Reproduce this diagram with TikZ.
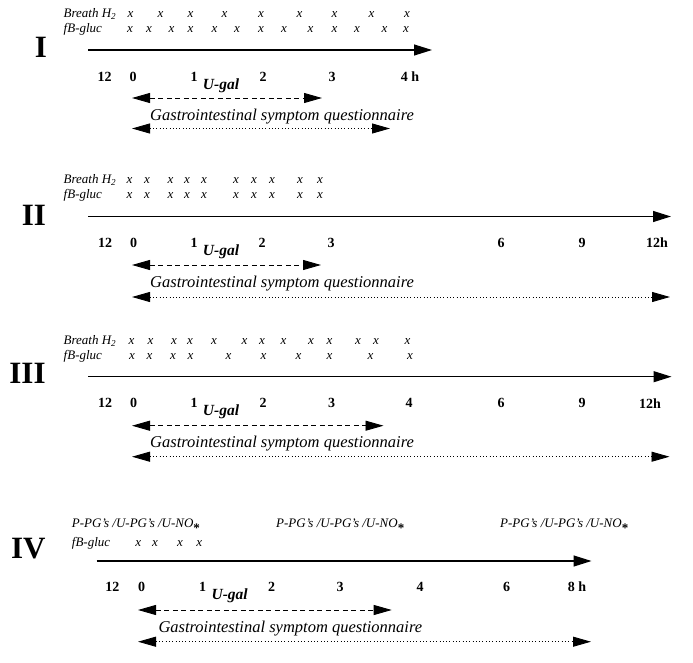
\documentclass[tikz,border=0pt]{standalone}
\usepackage{fontspec}
\setmainfont{Liberation Serif}
\usepackage{tikz}
\usetikzlibrary{arrows.meta}
\usetikzlibrary{positioning}
\tikzset{
    panel numeral/.style={
        inner sep=0pt,
        font=\fontsize{31}{31}\selectfont\bfseries
    },
    row label/.style={
        anchor=base west,
        inner sep=0pt,
        font=\fontsize{13}{13}\selectfont\itshape
    },
    sample mark/.style={
        anchor=base,
        inner sep=0pt,
        font=\fontsize{13}{13}\selectfont\itshape
    },
    hour label/.style={
        inner sep=0pt,
        font=\fontsize{14}{14}\selectfont\bfseries
    },
    ugal label/.style={
        inner sep=0pt,
        font=\fontsize{15.5}{15.5}\selectfont\bfseries\itshape
    },
    gsq label/.style={
        anchor=west,
        inner sep=0pt,
        font=\fontsize{16.5}{16.5}\selectfont\itshape
    },
    time line/.style={
        line width=1.2pt,
        -{Triangle[length=18pt,width=11pt]}
    },
    ugal span/.style={
        line width=0.9pt,
        dash pattern=on 5pt off 3.5pt,
        {Triangle[length=18pt,width=10pt]}-{Triangle[length=18pt,width=10pt]}
    },
    gsq span/.style={
        line width=0.9pt,
        dash pattern=on 0.9pt off 2.4pt,
        {Triangle[length=18pt,width=10pt]}-{Triangle[length=18pt,width=10pt]}
    }
}
\newcommand{\gsqtext}{Gastrointestinal symptom questionnaire}
\newcommand{\pgtext}{P-PG's /U-PG's /U-NO\raisebox{-0.42em}{\upshape\bfseries *}}

\begin{document}
\begin{tikzpicture}[x=1pt,y=-1pt]
\useasboundingbox (0,0) rectangle (693,663);

% I
\begin{scope}[shift={(0,50)}]
    \node[panel numeral] (numI) at (41,-2.5) {I};
    \node[row label] (I-breath) at (63.5,-32.5) {Breath H\textsubscript{2}};
    \node[row label] (I-gluc) at (63.5,-17.5) {fB-gluc};
    \foreach \x [count=\i] in {130.5,160.5,190.5,224.5,261,299.5,334.5,371.5,407}
        \node[sample mark] (I-b\i) at (\x,-32.5) {x};
    \foreach \x [count=\i] in {130,149,171.5,190.5,214.5,237,261,284,310.5,334.5,357,384.5,406}
        \node[sample mark] (I-g\i) at (\x,-17.5) {x};
    \coordinate (I-t0) at (88,0);
    \coordinate (I-t1) at (432,0);
    \draw[time line] (I-t0) -- (I-t1);
    \foreach \x/\t [count=\i] in {104.5/12,133/0,194/1,263/2,332/3,410/{4 h}}
        \node[hour label] (I-h\i) at (\x,27) {\t};
    \node[ugal label, anchor=west, right=5pt of I-h3, yshift=-8.5pt] (I-ugal) {U-gal};
    \coordinate (I-u0) at (132,48);
    \coordinate (I-u1) at (322,48);
    \draw[ugal span] (I-u0) -- (I-u1);
    \node[gsq label] (I-gsq) at (150,67) {\gsqtext};
    \coordinate (I-q0) at (132,78.5);
    \coordinate (I-q1) at (390,78.5);
    \draw[gsq span] (I-q0) -- (I-q1);
\end{scope}

% II
\begin{scope}[shift={(0,216.5)}]
    \node[panel numeral] (numII) at (34,-1.5) {II};
    \node[row label] (II-breath) at (63.5,-32.5) {Breath H\textsubscript{2}};
    \node[row label] (II-gluc) at (63.5,-17.5) {fB-gluc};
    \foreach \x [count=\i] in {129.5,147,170.5,187,204,236,254,272,300,320}{
        \node[sample mark] (II-b\i) at (\x,-32.5) {x};
        \node[sample mark] (II-g\i) at (\x,-17.5) {x};
    }
    \coordinate (II-t0) at (88,0);
    \coordinate (II-t1) at (671,0);
    \draw[time line] (II-t0) -- (II-t1);
    \foreach \x/\t [count=\i] in {105/12,133.5/0,194/1,262/2,331/3,501/6,582/9,657/12h}
        \node[hour label] (II-h\i) at (\x,26.5) {\t};
    \node[ugal label, anchor=west, right=5pt of II-h3, yshift=-8.5pt] (II-ugal) {U-gal};
    \coordinate (II-u0) at (132,48.5);
    \coordinate (II-u1) at (321,48.5);
    \draw[ugal span] (II-u0) -- (II-u1);
    \node[gsq label] (II-gsq) at (150,67) {\gsqtext};
    \coordinate (II-q0) at (132,80.5);
    \coordinate (II-q1) at (670,80.5);
    \draw[gsq span] (II-q0) -- (II-q1);
\end{scope}

% III
\begin{scope}[shift={(0,376.7)}]
    \node[panel numeral] (numIII) at (27.5,-3.4) {III};
    \node[row label] (III-breath) at (63.5,-32.5) {Breath H\textsubscript{2}};
    \node[row label] (III-gluc) at (63.5,-17.5) {fB-gluc};
    \foreach \x [count=\i] in {131.5,150.5,174,190,214,244.5,262,283.5,311,329.5,358,376,407.5}
        \node[sample mark] (III-b\i) at (\x,-32.5) {x};
    \foreach \x [count=\i] in {132,149.5,173,190.5,228.5,263.5,298.5,329.5,370.5,410}
        \node[sample mark] (III-g\i) at (\x,-17.5) {x};
    \coordinate (III-t0) at (88,0);
    \coordinate (III-t1) at (671.5,0);
    \draw[time line] (III-t0) -- (III-t1);
    \foreach \x/\t [count=\i] in {105/12,133.5/0,194/1,263/2,331.5/3,409/4,501/6,582/9,650/12h}
        \node[hour label] (III-h\i) at (\x,26.5) {\t};
    \node[ugal label, anchor=west, right=5pt of III-h3, yshift=-8.5pt] (III-ugal) {U-gal};
    \coordinate (III-u0) at (132,49);
    \coordinate (III-u1) at (383.5,49);
    \draw[ugal span] (III-u0) -- (III-u1);
    \node[gsq label] (III-gsq) at (150,66.5) {\gsqtext};
    \coordinate (III-q0) at (132,80);
    \coordinate (III-q1) at (669.5,80);
    \draw[gsq span] (III-q0) -- (III-q1);
\end{scope}

% IV
\begin{scope}[shift={(0,561)}]
    \node[panel numeral] (numIV) at (28.3,-12.5) {IV};
    \foreach \x [count=\i] in {71.7,276,500}
        \node[row label] (IV-pg\i) at (\x,-33.5) {\pgtext};
    \node[row label] (IV-gluc) at (71.7,-15) {fB-gluc};
    \foreach \x [count=\i] in {138.3,155,180,199.3}
        \node[sample mark] (IV-g\i) at (\x,-15) {x};
    \coordinate (IV-t0) at (96.7,0);
    \coordinate (IV-t1) at (591.5,0);
    \draw[time line] (IV-t0) -- (IV-t1);
    \foreach \x/\t [count=\i] in {112.3/12,141.7/0,202.7/1,271.7/2,340/3,420/4,506.7/6,577/{8 h}}
        \node[hour label] (IV-h\i) at (\x,26) {\t};
    \node[ugal label, anchor=west, right=5pt of IV-h3, yshift=-8.5pt] (IV-ugal) {U-gal};
    \coordinate (IV-u0) at (138,49);
    \coordinate (IV-u1) at (391.7,49);
    \draw[ugal span] (IV-u0) -- (IV-u1);
    \node[gsq label] (IV-gsq) at (158.3,67.3) {\gsqtext};
    \coordinate (IV-q0) at (138,80.7);
    \coordinate (IV-q1) at (591,80.7);
    \draw[gsq span] (IV-q0) -- (IV-q1);
\end{scope}
\end{tikzpicture}
\end{document}
